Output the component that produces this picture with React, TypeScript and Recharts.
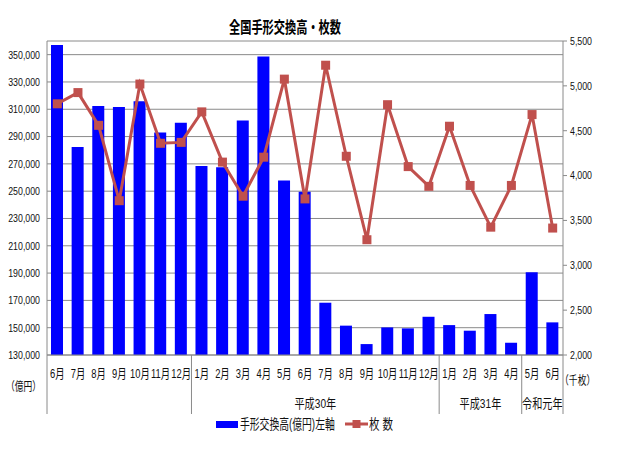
import React from 'react';
import { ComposedChart, Bar, Line, XAxis, YAxis, CartesianGrid, Legend } from 'recharts';

// ---- data ----
const monthLabels = [
  '6月', '7月', '8月', '9月', '10月', '11月', '12月',
  '1月', '2月', '3月', '4月', '5月', '6月', '7月', '8月', '9月', '10月', '11月', '12月',
  '1月', '2月', '3月', '4月',
  '5月', '6月',
];
// 手形交換高 (億円)
const amounts = [
  357000, 282400, 312400, 311700, 315800, 292900, 300200,
  268500, 267500, 301700, 348700, 257800, 249500, 168300, 151500, 138000, 150200, 149500, 158000,
  151900, 147800, 160000, 139000,
  190700, 153900,
];
// 枚数 (千枚)
const counts = [
  4800, 4925, 4560, 3720, 5020, 4360, 4370,
  4710, 4150, 3770, 4205, 5075, 3740, 5230, 4215, 3285, 4790, 4100, 3880,
  4550, 3890, 3425, 3890,
  4680, 3415,
];
const yearLabels = ['', '平成30年', '平成31年', '令和元年'];
const yearStarts = [0, 7, 19, 23];
const yearCounts = [7, 12, 4, 2];
const leftTicks = [130000, 150000, 170000, 190000, 210000, 230000, 250000, 270000, 290000, 310000, 330000, 350000];
const rightTicks = [2000, 2500, 3000, 3500, 4000, 4500, 5000, 5500];
const leftDomain = [130000, 360000];
const rightDomain = [2000, 5500];

const data = monthLabels.map((label, i) => ({ label, amount: amounts[i], count: counts[i] }));

// ---- styles ----
const W = 640;
const H = 450;
const LEFT_W = 47;
const RIGHT_W = 77;
const CAT_W = (W - LEFT_W - RIGHT_W) / monthLabels.length;
const BAR_COLOR = '#0000FF';
const LINE_COLOR = '#C0504D';
const GRID = '#8a8a8a';
const FONT = "'Liberation Sans', 'Noto Sans CJK JP', sans-serif";

const MonthTick = (props: any) => {
  const { x, y, payload, index } = props;
  const gi = yearStarts.indexOf(index);
  const last = index === monthLabels.length - 1;
  return (
    <g>
      <g transform={`translate(${x},${y + 18})`}>
        <text transform="scale(0.72,1)" textAnchor="middle" dominantBaseline="central" fontSize={13} fontFamily={FONT} fill="#111">
          {payload.value}
        </text>
      </g>
      {gi >= 0 && (
        <line x1={x - CAT_W / 2} x2={x - CAT_W / 2} y1={y} y2={y + 59} stroke={GRID} strokeWidth={1} />
      )}
      {last && (
        <line x1={x + CAT_W / 2} x2={x + CAT_W / 2} y1={y} y2={y + 59} stroke={GRID} strokeWidth={1} />
      )}
      {gi >= 0 && yearLabels[gi] && (
        <g transform={`translate(${x - CAT_W / 2 + (yearCounts[gi] * CAT_W) / 2},${y + 48})`}>
          <text transform="scale(0.78,1)" textAnchor="middle" dominantBaseline="central" fontSize={13} fontFamily={FONT} fill="#111">
            {yearLabels[gi]}
          </text>
        </g>
      )}
    </g>
  );
};

const NumTick = (props: any) => {
  const { x, y, payload, anchor } = props;
  return (
    <g transform={`translate(${x},${y})`}>
      <text transform="scale(0.8,1)" textAnchor={anchor} dominantBaseline="central" fontSize={11} fontFamily={FONT} fill="#111">
        {Number(payload.value).toLocaleString('en-US')}
      </text>
    </g>
  );
};

const unitLabel = (text: string, dxRatio: number, dy: number) => (props: any) => {
  const vb = props.viewBox || {};
  const cx = vb.x + vb.width * dxRatio;
  const cy = vb.y + vb.height + dy;
  return (
    <g transform={`translate(${cx},${cy})`}>
      <text transform="scale(0.73,1)" textAnchor="middle" dominantBaseline="central" fontSize={12} fontFamily={FONT} fill="#111">
        {text}
      </text>
    </g>
  );
};

const SquareDot = (props: any) => {
  const { cx, cy, index } = props;
  if (cx == null || cy == null) return <g key={`d${index}`} />;
  return <rect key={`d${index}`} x={cx - 4.5} y={cy - 4.5} width={9} height={9} fill={LINE_COLOR} />;
};

const squeezed = (text: string, width: number, scale: number, size: number) => (
  <span style={{ flex: `0 0 ${width}px`, width, overflow: 'visible', whiteSpace: 'nowrap', display: 'inline-block' }}>
    <span style={{ display: 'inline-block', transform: `scaleX(${scale})`, transformOrigin: 'left center', fontSize: size, lineHeight: '16px', fontFamily: FONT, color: '#111' }}>
      {text}
    </span>
  </span>
);

const LegendContent = (props: any) => {
  const payload = props.payload || [];
  return (
    <div style={{ display: 'flex', alignItems: 'center', height: 16 }}>
      {payload.map((entry: any, i: number) => {
        if (entry.type === 'rect' || entry.dataKey === 'amount') {
          return (
            <React.Fragment key={`l${i}`}>
              <span style={{ flex: '0 0 22px', width: 22, height: 7, background: BAR_COLOR, display: 'inline-block' }} />
              <span style={{ width: 2, flex: '0 0 2px' }} />
              {squeezed(entry.value, 95, 0.7, 14)}
            </React.Fragment>
          );
        }
        return (
          <React.Fragment key={`l${i}`}>
            <span style={{ width: 10, flex: '0 0 10px' }} />
            <svg width={23} height={10} style={{ flex: '0 0 23px', display: 'block' }}>
              <line x1={0} x2={23} y1={5} y2={5} stroke={LINE_COLOR} strokeWidth={3} />
              <rect x={7.5} y={1} width={8} height={8} fill={LINE_COLOR} />
            </svg>
            <span style={{ width: 1, flex: '0 0 1px' }} />
            {squeezed(entry.value, 30, 0.75, 14)}
          </React.Fragment>
        );
      })}
    </div>
  );
};

export default function App() {
  return (
    <div style={{ position: 'absolute', left: 0, top: 0, width: W, height: H, background: '#fff' }}>
      <div
        style={{
          position: 'absolute', left: 185, top: 18, width: 200, textAlign: 'center',
          fontSize: 16, lineHeight: '20px', fontWeight: 700, fontFamily: FONT, color: '#000',
          transform: 'scaleX(0.7)', transformOrigin: 'center', whiteSpace: 'nowrap', zIndex: 2,
        }}
      >
        全国手形交換高・枚数
      </div>
      <ComposedChart width={W} height={H} data={data} margin={{ top: 41, right: 0, bottom: 35, left: 0 }} barSize={12}>
        <CartesianGrid yAxisId="left" vertical={false} stroke={GRID} strokeWidth={1} />
        <XAxis
          dataKey="label"
          interval={0}
          tickLine={false}
          tickSize={0}
          tickMargin={0}
          height={60}
          axisLine={{ stroke: GRID }}
          tick={<MonthTick />}
        />
        <YAxis
          yAxisId="left"
          orientation="left"
          width={LEFT_W}
          type="number"
          domain={leftDomain}
          ticks={leftTicks}
          allowDataOverflow
          interval={0}
          tickLine={false}
          tickSize={0}
          tickMargin={7}
          axisLine={{ stroke: GRID }}
          tick={<NumTick anchor="end" />}
          label={{ content: unitLabel('（億円）', 0.5, 31) }}
        />
        <YAxis
          yAxisId="right"
          orientation="right"
          width={RIGHT_W}
          type="number"
          domain={rightDomain}
          ticks={rightTicks}
          allowDataOverflow
          interval={0}
          tickLine={{ stroke: GRID }}
          tickSize={4}
          tickMargin={3}
          axisLine={{ stroke: GRID }}
          tick={<NumTick anchor="start" />}
          label={{ content: unitLabel('（千枚）', 0.19, 25) }}
        />
        <Bar yAxisId="left" dataKey="amount" name="手形交換高(億円)左軸" fill={BAR_COLOR} isAnimationActive={false} legendType="rect" />
        <Line
          yAxisId="right"
          dataKey="count"
          name="枚 数"
          stroke={LINE_COLOR}
          strokeWidth={3}
          dot={SquareDot}
          activeDot={false}
          isAnimationActive={false}
          legendType="line"
        />
        <Legend
          layout="horizontal"
          verticalAlign="middle"
          align="center"
          content={<LegendContent />}
          wrapperStyle={{ left: 216, top: 416, width: 220, height: 16 }}
        />
      </ComposedChart>
    </div>
  );
}
